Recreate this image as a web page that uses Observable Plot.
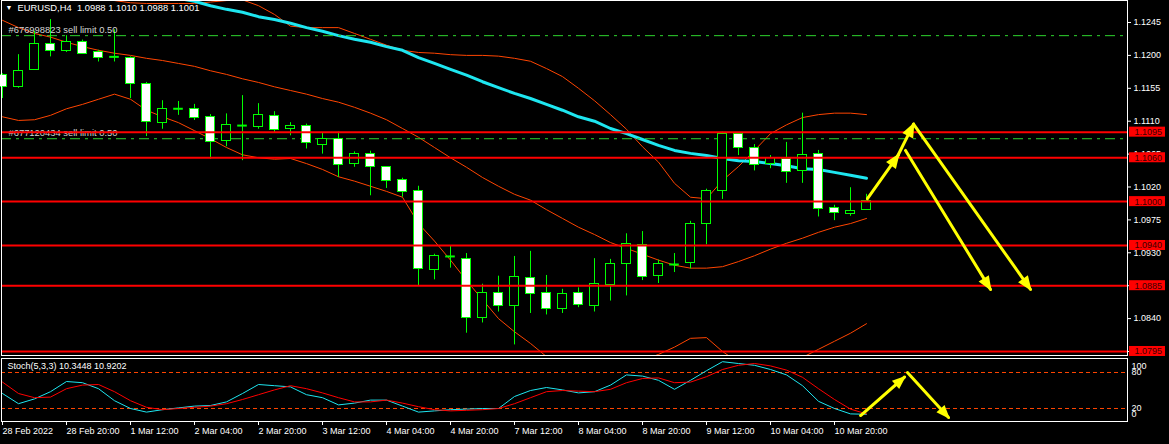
<!DOCTYPE html>
<html>
<head>
<meta charset="utf-8">
<script src="https://cdn.jsdelivr.net/npm/d3@7"></script>
<script src="https://cdn.jsdelivr.net/npm/@observablehq/plot@0.6"></script>
<style>
html, body { margin: 0; padding: 0; background: #000; }
#chart { width: 1169px; height: 444px; background: #000; overflow: hidden; }
#chart svg { display: block; }
#chart svg text { white-space: pre; }
</style>
</head>
<body>
<div id="chart"></div>
<script>
// ---------- DATA (EURUSD H4, bar index 0 = 28 Feb 2022 04:00) ----------
const opens  = [1.1173,1.1157,1.1180,1.1215,1.1206,1.1219,1.1204,1.1198,1.1197,1.1161,1.1107,1.1127,1.1127,1.1116,1.1083,1.1104,1.1102,1.1117,1.1099,1.1104,1.1078,1.1085,1.1051,1.1065,1.1047,1.1030,1.1015,1.0906,1.0925,1.0922,1.0841,1.0875,1.0857,1.0896,1.0875,1.0853,1.0875,1.0857,1.0886,1.0914,1.0941,1.0898,1.0914,1.0916,1.0970,1.1014,1.1093,1.1074,1.1051,1.1058,1.1042,1.1065,1.0991,1.0983,1.0988];
const highs  = [1.1175,1.1201,1.1233,1.1249,1.1227,1.1221,1.1207,1.1235,1.1198,1.1163,1.1138,1.1137,1.1133,1.1119,1.1120,1.1145,1.1134,1.1123,1.1108,1.1106,1.1094,1.1095,1.1068,1.1069,1.1048,1.1032,1.1021,1.0928,1.0939,1.0929,1.0887,1.0898,1.0925,1.0932,1.0899,1.0880,1.0882,1.0922,1.0921,1.0956,1.0959,1.0920,1.0929,1.0973,1.1017,1.1095,1.1094,1.1078,1.1063,1.1081,1.1121,1.1070,1.0995,1.1019,1.1010];
const lows   = [1.1141,1.1155,1.1180,1.1198,1.1204,1.1202,1.1191,1.1191,1.1141,1.1089,1.1099,1.1118,1.1111,1.1058,1.1075,1.1056,1.1099,1.1094,1.1090,1.1072,1.1065,1.1033,1.1047,1.1008,1.1018,1.1006,1.0885,1.0893,1.0909,1.0820,1.0834,1.0849,1.0804,1.0847,1.0845,1.0847,1.0855,1.0849,1.0864,1.0871,1.0892,1.0888,1.0903,1.0908,1.0941,1.1003,1.1063,1.1042,1.1045,1.1025,1.1025,1.0979,1.0974,1.0980,1.0988];
const closes = [1.1157,1.1179,1.1215,1.1206,1.1219,1.1202,1.1197,1.1198,1.1161,1.1109,1.1127,1.1127,1.1115,1.1081,1.1105,1.1104,1.1119,1.1098,1.1103,1.1080,1.1086,1.1050,1.1065,1.1048,1.1028,1.1013,1.0908,1.0926,1.0925,1.0841,1.0875,1.0857,1.0897,1.0874,1.0853,1.0874,1.0858,1.0888,1.0915,1.0942,1.0897,1.0914,1.0914,1.0970,1.1014,1.1093,1.1073,1.1050,1.1059,1.1040,1.1064,1.0990,1.0984,1.0987,1.1001];

const maValues = [1.1333,1.1327,1.1322,1.1316,1.1311,1.1305,1.1301,1.1296,1.1290,1.1286,1.1282,1.1278,1.1274,1.1268,1.1263,1.1259,1.1253,1.1249,1.1244,1.1238,1.1233,1.1227,1.1222,1.1218,1.1212,1.1207,1.1197,1.1189,1.1181,1.1173,1.1164,1.1156,1.1148,1.1141,1.1133,1.1125,1.1116,1.1110,1.1100,1.1093,1.1085,1.1077,1.1070,1.1066,1.1063,1.1059,1.1056,1.1055,1.1052,1.1049,1.1045,1.1044,1.1040,1.1036,1.1032];
const bbUpper  = [1.1385,1.1365,1.1348,1.1331,1.1308,1.1292,1.1281,1.1275,1.1272,1.1271,1.1271,1.1271,1.1271,1.1273,1.1275,1.1276,1.1268,1.1256,1.1240,1.1238,1.1238,1.1238,1.1230,1.1222,1.1214,1.1207,1.1204,1.1203,1.1201,1.1200,1.1200,1.1199,1.1196,1.1192,1.1182,1.1171,1.1155,1.1138,1.1119,1.1099,1.1075,1.1054,1.1025,1.1006,1.1004,1.1029,1.1048,1.1070,1.1093,1.1105,1.1115,1.1119,1.1121,1.1121,1.1119];
const bbMiddle = [1.1248,1.1238,1.1230,1.1225,1.1218,1.1212,1.1207,1.1203,1.1200,1.1196,1.1193,1.1189,1.1185,1.1179,1.1174,1.1168,1.1163,1.1157,1.1152,1.1147,1.1141,1.1136,1.1129,1.1121,1.1112,1.1100,1.1088,1.1074,1.1060,1.1047,1.1033,1.1021,1.1010,1.1002,1.0989,1.0977,1.0965,1.0955,1.0944,1.0936,1.0928,1.0920,1.0913,1.0909,1.0909,1.0911,1.0918,1.0926,1.0935,1.0943,1.0950,1.0958,1.0965,1.0970,1.0977];
const bbLower  = [1.1116,1.1111,1.1112,1.1118,1.1127,1.1133,1.1140,1.1147,1.1140,1.1125,1.1116,1.1108,1.1097,1.1086,1.1074,1.1064,1.1060,1.1058,1.1059,1.1052,1.1044,1.1034,1.1028,1.1021,1.1014,1.1006,1.0970,1.0946,1.0920,1.0892,1.0866,1.0840,1.0822,1.0806,1.0788,1.0776,1.0766,1.0762,1.0766,1.0775,1.0783,1.0791,1.0801,1.0813,1.0814,1.0795,1.0780,1.0772,1.0772,1.0777,1.0787,1.0798,1.0809,1.0820,1.0833];

const stochMain   = [45,28,36,48,65,63,53,33,20,14,18,21,24,25,31,45,60,58,56,43,38,26,29,34,34,24,14,16,18,19,20,20,40,50,55,51,46,48,59,76,74,67,52,67,83,98,95,92,85,76,58,32,20,11,10.3448];
const stochSignal = [64,45,38,39,53,59,60,48,33,22,18,20,22,24,28,35,43,51,58,53,46,38,31,31,34,29,23,18,16,17,18,20,28,38,48,50,49,48,52,63,70,71,63,64,73,85,92,95,91,84,72,53,35,19,10.9202];

const timeTickIdx = [0,4,8,12,16,20,24,28,32,36,40,44,48,52];
const timeLabels = ["28 Feb 2022","28 Feb 20:00","1 Mar 12:00","2 Mar 04:00","2 Mar 20:00","3 Mar 12:00","4 Mar 04:00","4 Mar 20:00","7 Mar 12:00","8 Mar 04:00","8 Mar 20:00","9 Mar 12:00","10 Mar 04:00","10 Mar 20:00"];

const priceTicks = [1.1245,1.1200,1.1155,1.1110,1.1065,1.1020,1.0975,1.0930,1.0885,1.0840,1.0795];
const levels = [1.1095,1.1060,1.1000,1.0940,1.0885,1.0795];
const orderPrices = [1.1227,1.1086];
const orderLabels = ["#676998823 sell limit 0.50","#677120434 sell limit 0.50"];
const headerText = "EURUSD,H4  1.0988 1.1010 1.0988 1.1001";
const stochText = "Stoch(5,3,3) 10.3448 10.9202";

// arrows drawn on the chart: [start bar, start value, end bar, end value]
const arrowsMain = [
  [54.06,1.1004,56.00,1.1064],
  [55.94,1.1062,56.94,1.1106],
  [56.44,1.1070,61.75,1.0880],
  [56.94,1.1106,64.25,1.0880]
];
const arrowsStoch = [
  [53.63,8.3,56.38,72.5],
  [56.56,80,59.13,5]
];

// ---------- BUILD ----------
const FONT = "'Liberation Sans', Arial, sans-serif";
const GREEN = "#00ff00";
const ORANGE = "#ff4500";
const CYAN = "#1ee6f0";
const YELLOW = "#ffff00";
const HALF = 0.3;
const NS = "http://www.w3.org/2000/svg";

const candles = opens.map((o, i) => ({i, o, h: highs[i], l: lows[i], c: closes[i]}));
const bull = candles.filter(d => d.c > d.o);
const bear = candles.filter(d => d.c < d.o);
const doji = candles.filter(d => d.c === d.o);
const orders = orderPrices.map((p, k) => ({price: p, label: orderLabels[k]}));
const labelByIdx = new Map(timeTickIdx.map((t, k) => [t, timeLabels[k]]));
const toArrow = a => ({x1: a[0], y1: a[1], x2: a[2], y2: a[3]});

const xDomain = [-0.0625, 70.3125];

// red price boxes behind the level labels on the right axis
function boxedLabels(index, scales, values, dimensions, context, next) {
  const g = next(index, scales, values, dimensions, context);
  const left = dimensions.width - dimensions.marginRight;
  for (const i of index) {
    const r = document.createElementNS(NS, "rect");
    r.setAttribute("x", left - 5.5);
    r.setAttribute("y", values.y[i] - 5.5);
    r.setAttribute("width", 36);
    r.setAttribute("height", 10);
    r.setAttribute("fill", "#ff0000");
    g.insertBefore(r, g.firstChild);
  }
  return g;
}

// solid triangular arrow heads, computed in screen space from the scaled ends
function solidHeads(len, half) {
  return function (index, scales, values, dimensions, context, next) {
    const g = next(index, scales, values, dimensions, context);
    for (const i of index) {
      const x1 = values.x1[i], y1 = values.y1[i], x2 = values.x2[i], y2 = values.y2[i];
      const L = Math.hypot(x2 - x1, y2 - y1);
      const ux = (x2 - x1) / L, uy = (y2 - y1) / L;
      const bx = x2 - ux * len, by = y2 - uy * len;
      const poly = document.createElementNS(NS, "polygon");
      poly.setAttribute("points", `${x2 + ux * 2},${y2 + uy * 2} ${bx - uy * half},${by + ux * half} ${bx + uy * half},${by - ux * half}`);
      poly.setAttribute("fill", YELLOW);
      poly.setAttribute("stroke", "none");
      g.appendChild(poly);
    }
    return g;
  };
}

const main = Plot.plot({
  width: 1169, height: 356,
  marginLeft: 1, marginRight: 42, marginTop: 0, marginBottom: 1,
  style: {background: "#000", color: "#fff", fontFamily: FONT, fontSize: "9px"},
  x: {type: "linear", domain: xDomain, axis: null},
  y: {domain: [1.078952, 1.127509], axis: null},
  marks: [
    Plot.line(bbUpper, {x: (d, i) => i, y: d => d, stroke: ORANGE, strokeWidth: 1, clip: true}),
    Plot.line(bbMiddle, {x: (d, i) => i, y: d => d, stroke: ORANGE, strokeWidth: 1, clip: true}),
    Plot.line(bbLower, {x: (d, i) => i, y: d => d, stroke: ORANGE, strokeWidth: 1, clip: true}),
    Plot.line(maValues, {x: (d, i) => i, y: d => d, stroke: CYAN, strokeWidth: 3, clip: true}),
    Plot.ruleY(orders, {y: "price", stroke: "#2ed52e", strokeWidth: 1, strokeDasharray: "10,5,3,5"}),
    Plot.ruleX(candles, {x: "i", y1: "l", y2: "h", stroke: GREEN, strokeWidth: 1}),
    Plot.rect(bull, {x1: d => d.i - HALF, x2: d => d.i + HALF, y1: "o", y2: "c", fill: "#000", stroke: GREEN, strokeWidth: 1, shapeRendering: "crispEdges"}),
    Plot.rect(bear, {x1: d => d.i - HALF, x2: d => d.i + HALF, y1: "o", y2: "c", fill: "#fff", stroke: GREEN, strokeWidth: 1, shapeRendering: "crispEdges"}),
    Plot.ruleY(doji, {y: "o", x1: d => d.i - HALF, x2: d => d.i + HALF, stroke: GREEN, strokeWidth: 2}),
    Plot.text(orders, {y: "price", text: "label", frameAnchor: "left", dx: 7, dy: -3, textAnchor: "start", lineAnchor: "bottom", fill: "#d4d4d4", fontSize: 9.4}),
    Plot.ruleY(levels, {stroke: "#ff0000", strokeWidth: 2}),
    Plot.arrow(arrowsMain.map(toArrow), {x1: "x1", y1: "y1", x2: "x2", y2: "y2", stroke: YELLOW, strokeWidth: 3, headLength: 0, render: solidHeads(13, 6)}),
    Plot.axisY(priceTicks, {anchor: "right", tickSize: 3, tickPadding: 3, tickFormat: d3.format(".4f"), stroke: "#fff", fill: "#fff", fontSize: 9, label: null}),
    Plot.text(levels, {y: d => d, text: d => d.toFixed(4), frameAnchor: "right", dx: 7, textAnchor: "start", fill: "#3a0000", fontSize: 9, render: boxedLabels}),
    Plot.frame({stroke: "#fff"}),
    Plot.text([headerText], {frameAnchor: "top-left", dx: 16, dy: 3.5, textAnchor: "start", lineAnchor: "top", fill: "#fff", fontSize: 9.4}),
    Plot.text(["▼"], {frameAnchor: "top-left", dx: 4, dy: 5, textAnchor: "start", lineAnchor: "top", fill: "#fff", fontSize: 7})
  ]
});

const stoch = Plot.plot({
  width: 1169, height: 88,
  marginLeft: 1, marginRight: 42, marginTop: 2, marginBottom: 23,
  style: {background: "#000", color: "#fff", fontFamily: FONT, fontSize: "9px"},
  x: {type: "linear", domain: xDomain, axis: null},
  y: {domain: [-1.667, 103.333], axis: null},
  marks: [
    Plot.ruleY([20, 80], {stroke: ORANGE, strokeWidth: 1, strokeDasharray: "4,3"}),
    Plot.line(stochMain, {x: (d, i) => i, y: d => d, stroke: CYAN, strokeWidth: 1}),
    Plot.line(stochSignal, {x: (d, i) => i, y: d => d, stroke: "#ff0000", strokeWidth: 1}),
    Plot.arrow(arrowsStoch.map(toArrow), {x1: "x1", y1: "y1", x2: "x2", y2: "y2", stroke: YELLOW, strokeWidth: 3, headLength: 0, render: solidHeads(12, 5.5)}),
    Plot.text([stochText], {frameAnchor: "top-left", dx: 6, dy: 4, textAnchor: "start", lineAnchor: "top", fill: "#fff", fontSize: 9}),
    Plot.text([80, 20], {y: d => d, text: d => String(d), frameAnchor: "right", dx: 4, textAnchor: "start", fill: "#fff", fontSize: 9}),
    Plot.text([100], {y: d => d, text: d => String(d), frameAnchor: "right", dx: 4, dy: 5.5, textAnchor: "start", fill: "#fff", fontSize: 9}),
    Plot.text([0], {y: d => d, text: d => String(d), frameAnchor: "right", dx: 4, dy: -6, textAnchor: "start", fill: "#fff", fontSize: 9}),
    Plot.axisX(timeTickIdx, {anchor: "bottom", tickSize: 4, tickPadding: 2, tickFormat: d => labelByIdx.get(d), textAnchor: "start", stroke: "#fff", fill: "#fff", fontSize: 9, label: null}),
    Plot.frame({stroke: "#fff"})
  ]
});

const root = document.getElementById("chart");
root.appendChild(main);
root.appendChild(stoch);
</script>
</body>
</html>
